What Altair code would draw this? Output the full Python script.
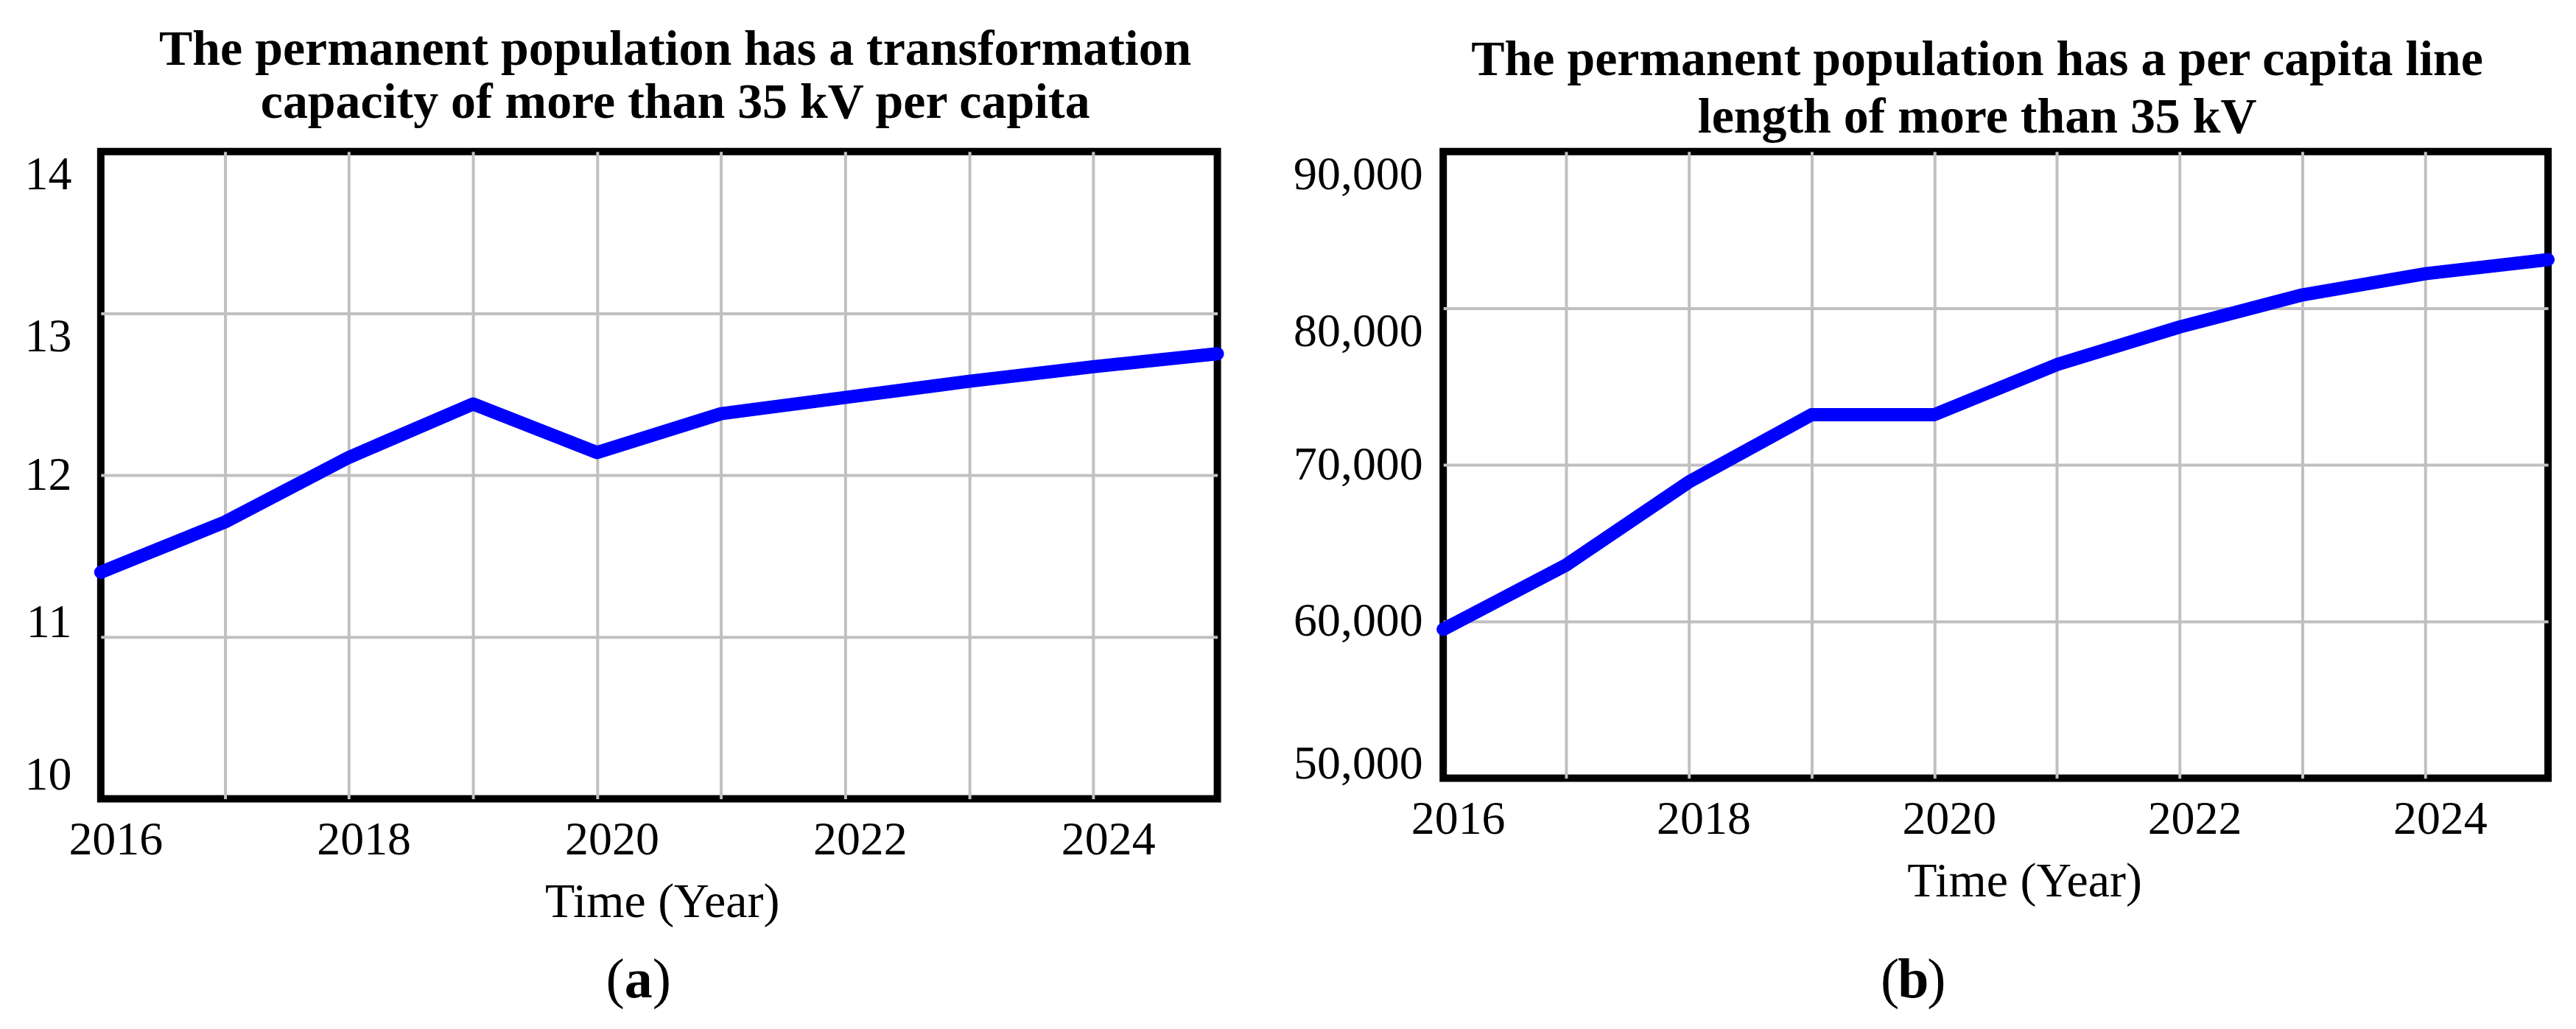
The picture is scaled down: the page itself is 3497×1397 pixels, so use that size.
import altair as alt
import pandas as pd

# ---- data ----
years = [2016, 2017, 2018, 2019, 2020, 2021, 2022, 2023, 2024, 2025]
capacity = [11.40, 11.71, 12.11, 12.44, 12.14, 12.38, 12.48, 12.58, 12.67, 12.75]
line_length = [59500, 63600, 68900, 73200, 73200, 76400, 78800, 80850, 82200, 83100]

cap_ticks = [10, 11, 12, 13, 14]
len_ticks = [50000, 60000, 70000, 80000, 90000]

title_a = ["The permanent population has a transformation",
           "capacity of more than 35 kV per capita"]
title_b = ["The permanent population has a per capita line",
           "length of more than 35 kV"]
x_title = "Time (Year)"
tag_a = "a"
tag_b = "b"

FONT = "Liberation Serif"
BLUE = "#0000ff"
GRID = "#c0c0c0"


def baseline_cond(pairs, default):
    # pairs: (test expression, baseline) checked in order
    return {
        "condition": [{"test": t, "value": k} for t, k in pairs],
        "value": default,
    }


def hide_ends(lo, hi):
    return {"condition": {"test": f"datum.value <= {lo} || datum.value >= {hi}", "value": 0},
            "value": 1}


def panel(values, yticks, ydomain, yfmt, width, height, title, title_dx, title_off,
          title_lh, ypad, ybase, tag, tag_x, tag_y, title_x):
    df = pd.DataFrame({"year": years, "value": values})
    line = alt.Chart(df).mark_line(
        color=BLUE, strokeWidth=18, strokeCap="round", strokeJoin="round", clip=False
    ).encode(
        x=alt.X("year:Q",
                scale=alt.Scale(domain=[2016, 2025], nice=False, zero=False),
                axis=alt.Axis(values=years,
                              labelExpr="datum.value % 2 == 0 ? format(datum.value, 'd') : ''",
                              labelFlush=False, labelOverlap=False, labelOffset=20,
                              labelPadding=24, title=x_title, titleX=title_x,
                              titleY=160, titleBaseline="alphabetic",
                              gridOpacity=hide_ends(2016, 2025))),
        y=alt.Y("value:Q",
                scale=alt.Scale(domain=ydomain, nice=False, zero=False),
                axis=alt.Axis(values=yticks, format=yfmt, title=None,
                              labelPadding=ypad, labelFlush=False, labelOverlap=False,
                              labelBaseline=ybase,
                              gridOpacity=hide_ends(ydomain[0], ydomain[1]))),
    )
    tdf = pd.DataFrame({"t": [tag]})
    lp = alt.Chart(tdf).mark_text(text="(", font=FONT, fontSize=76, align="right",
                                  baseline="middle").encode(
        x=alt.value(tag_x - 19), y=alt.value(tag_y))
    mid = alt.Chart(tdf).mark_text(font=FONT, fontSize=76, fontWeight="bold",
                                   align="center", baseline="middle").encode(
        text="t:N", x=alt.value(tag_x), y=alt.value(tag_y))
    rp = alt.Chart(tdf).mark_text(text=")", font=FONT, fontSize=76, align="left",
                                  baseline="middle").encode(
        x=alt.value(tag_x + 19), y=alt.value(tag_y))
    return alt.layer(line, lp, mid, rp).properties(
        width=width, height=height,
        title=alt.TitleParams(text=title, font=FONT, fontSize=68, fontWeight="bold",
                              lineHeight=title_lh, anchor="middle", dx=title_dx,
                              offset=title_off, color="black"),
    )


left = panel(capacity, cap_ticks, [10, 14], "d", 1518, 880, title_a, 22, 32, 72, 40,
             baseline_cond([("datum.value > 12.5", "top"), ("datum.value > 11.5", "middle"),
                            ("datum.value > 10.5", "alphabetic")], "bottom"),
             tag_a, 731, 1127, 763)
right = panel(line_length, len_ticks, [50000, 90000], ",d", 1502, 852, title_b, -25, 12, 78, 28,
              baseline_cond([("datum.value > 85000", "top"), ("datum.value > 75000", "top"),
                             ("datum.value > 55000", "middle")], "alphabetic"),
              tag_b, 639, 1127, 790)

chart = alt.hconcat(left, right, spacing=73).configure_view(
    stroke="black", strokeWidth=10
).configure_axis(
    labelFont=FONT, labelFontSize=64, labelColor="black",
    titleFont=FONT, titleFontSize=66, titleFontWeight="normal", titleColor="black",
    grid=True, gridColor=GRID, gridWidth=4, ticks=False, domain=False,
).properties(
    padding={"left": 20, "top": 20, "right": 5, "bottom": 5},
    background="white",
)

chart.save("out.html", embed_options={"renderer": "svg", "actions": False})
